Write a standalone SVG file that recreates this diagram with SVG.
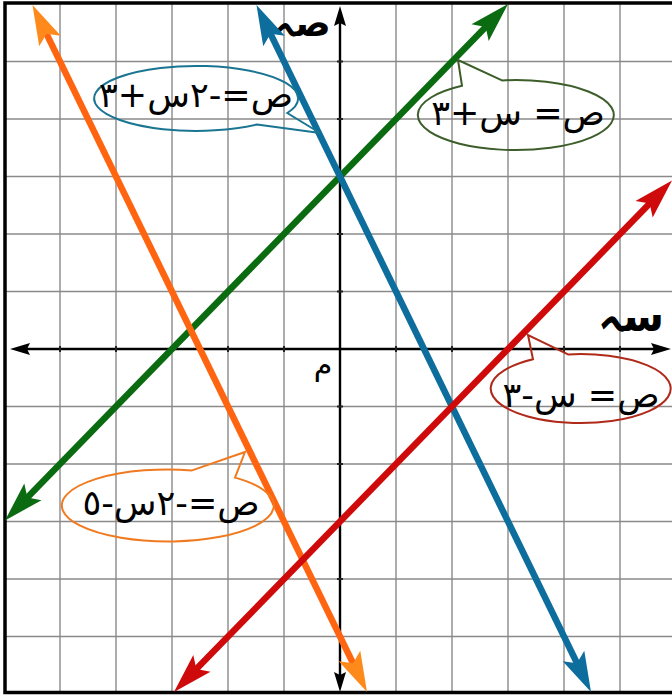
<svg xmlns="http://www.w3.org/2000/svg" width="672" height="695" viewBox="0 0 672 695">
<style>
.grid line{stroke:#8a8a8a;stroke-width:1.4}
.axis{stroke:#000;stroke-width:2.4;fill:none}
.tick{stroke:#222;stroke-width:2}
.ln{stroke-width:6.5;fill:none;stroke-linecap:butt}
.bub{fill:none;stroke-width:2}
.lbl{font-family:"DejaVu Sans","Noto Sans",sans-serif;fill:#000;direction:rtl;unicode-bidi:bidi-override}
.eq{font-size:35px}
</style>
<defs>
<marker id="mk" markerUnits="userSpaceOnUse" markerWidth="20" markerHeight="12" refX="10" refY="6" orient="auto-start-reverse" overflow="visible"><path d="M0,0 L20,6 L0,12 L3,6 Z" fill="#000"/></marker>
<marker id="mg" markerUnits="userSpaceOnUse" markerWidth="40" markerHeight="24" refX="16" refY="12" orient="auto-start-reverse" overflow="visible"><path d="M0,0 L40,12 L0,24 L8,12 Z" fill="#0b6b10"/></marker>
<marker id="mb" markerUnits="userSpaceOnUse" markerWidth="40" markerHeight="24" refX="16" refY="12" orient="auto-start-reverse" overflow="visible"><path d="M0,0 L40,12 L0,24 L8,12 Z" fill="#0d6d9c"/></marker>
<marker id="mo" markerUnits="userSpaceOnUse" markerWidth="40" markerHeight="24" refX="16" refY="12" orient="auto-start-reverse" overflow="visible"><path d="M0,0 L40,12 L0,24 L8,12 Z" fill="#ff8a1c"/></marker>
<marker id="mr" markerUnits="userSpaceOnUse" markerWidth="40" markerHeight="24" refX="16" refY="12" orient="auto-start-reverse" overflow="visible"><path d="M0,0 L40,12 L0,24 L8,12 Z" fill="#cf0a0a"/></marker>
</defs>
<rect x="0" y="0" width="672" height="695" fill="#fff"/>
<g class="grid">
<line x1="60" y1="3" x2="60" y2="693"/><line x1="116" y1="3" x2="116" y2="693"/><line x1="172" y1="3" x2="172" y2="693"/><line x1="228" y1="3" x2="228" y2="693"/><line x1="284" y1="3" x2="284" y2="693"/>
<line x1="396" y1="3" x2="396" y2="693"/><line x1="452" y1="3" x2="452" y2="693"/><line x1="508" y1="3" x2="508" y2="693"/><line x1="564" y1="3" x2="564" y2="693"/><line x1="620" y1="3" x2="620" y2="693"/>
<line x1="5" y1="61.5" x2="672" y2="61.5"/><line x1="5" y1="119" x2="672" y2="119"/><line x1="5" y1="176.5" x2="672" y2="176.5"/><line x1="5" y1="234" x2="672" y2="234"/><line x1="5" y1="291.5" x2="672" y2="291.5"/>
<line x1="5" y1="406.5" x2="672" y2="406.5"/><line x1="5" y1="464" x2="672" y2="464"/><line x1="5" y1="521.5" x2="672" y2="521.5"/><line x1="5" y1="579" x2="672" y2="579"/><line x1="5" y1="636.5" x2="672" y2="636.5"/>
</g>
<rect x="5" y="3" width="700" height="689.5" fill="none" stroke="#000" stroke-width="3.5"/>
<g id="axes">
<line class="axis" x1="20" y1="349" x2="661" y2="349" marker-start="url(#mk)" marker-end="url(#mk)"/>
<line class="axis" x1="340" y1="16" x2="340" y2="682" marker-start="url(#mk)" marker-end="url(#mk)"/>
<g class="tick">
<line x1="60" y1="346" x2="60" y2="352"/><line x1="116" y1="346" x2="116" y2="352"/><line x1="172" y1="346" x2="172" y2="352"/><line x1="228" y1="346" x2="228" y2="352"/><line x1="284" y1="346" x2="284" y2="352"/><line x1="396" y1="346" x2="396" y2="352"/><line x1="452" y1="346" x2="452" y2="352"/><line x1="508" y1="346" x2="508" y2="352"/><line x1="564" y1="346" x2="564" y2="352"/><line x1="620" y1="346" x2="620" y2="352"/>
<line x1="337" y1="61.5" x2="343" y2="61.5"/><line x1="337" y1="119" x2="343" y2="119"/><line x1="337" y1="176.5" x2="343" y2="176.5"/><line x1="337" y1="234" x2="343" y2="234"/><line x1="337" y1="291.5" x2="343" y2="291.5"/><line x1="337" y1="406.5" x2="343" y2="406.5"/><line x1="337" y1="464" x2="343" y2="464"/><line x1="337" y1="521.5" x2="343" y2="521.5"/><line x1="337" y1="579" x2="343" y2="579"/><line x1="337" y1="636.5" x2="343" y2="636.5"/>
</g>
<text class="lbl" x="302" y="36" font-size="37" font-weight="bold" text-anchor="middle">صہ</text>
<text class="lbl" x="631" y="331" font-size="42" font-weight="bold" text-anchor="middle">سہ</text>
<text class="lbl" x="323" y="375" font-size="30" text-anchor="middle">م</text>
</g>
<g id="connectors">
<line class="ln" x1="21.74" y1="503.3" x2="491.26" y2="21.19" stroke="#0b6b10" marker-start="url(#mg)" marker-end="url(#mg)"/>
<line class="ln" x1="267" y1="26.58" x2="580.5" y2="670.42" stroke="#0d6d9c" marker-start="url(#mb)" marker-end="url(#mb)"/>
<line class="ln" x1="43" y1="26.58" x2="356.5" y2="670.42" stroke="#ff6510" marker-start="url(#mo)" marker-end="url(#mo)"/>
<line class="ln" x1="190.74" y1="674.81" x2="655.26" y2="197.79" stroke="#cf0a0a" marker-start="url(#mr)" marker-end="url(#mr)"/>
</g>
<g id="label-blue">
<path class="bub" stroke="#1a7592" d="M257,124.5 L320,133 L287.3,113 A102 32.5 0 1 0 257,124.5 Z"/>
<text class="lbl eq" x="196" y="107" text-anchor="middle">ص=-٢س+٣</text>
</g>
<g id="label-green">
<path class="bub" stroke="#3d5e2a" d="M502,80.4 L458,60 L462,85.8 A98 35 0 1 0 502,80.4 Z"/>
<text class="lbl eq" x="518" y="125" text-anchor="middle">ص= س+٣</text>
</g>
<g id="label-red">
<path class="bub" stroke="#b02a1a" d="M568,354.4 L528,335 L533,359.3 A90 34.5 0 1 0 568,354.4 Z"/>
<text class="lbl eq" x="581" y="407" text-anchor="middle">ص= س-٣</text>
</g>
<g id="label-orange">
<path class="bub" stroke="#f07a20" d="M192,470.4 L245,452 L235,477.6 A106 36 0 1 1 192,470.4 Z"/>
<text class="lbl eq" x="171" y="515" text-anchor="middle">ص=-٢س-٥</text>
</g>
</svg>
